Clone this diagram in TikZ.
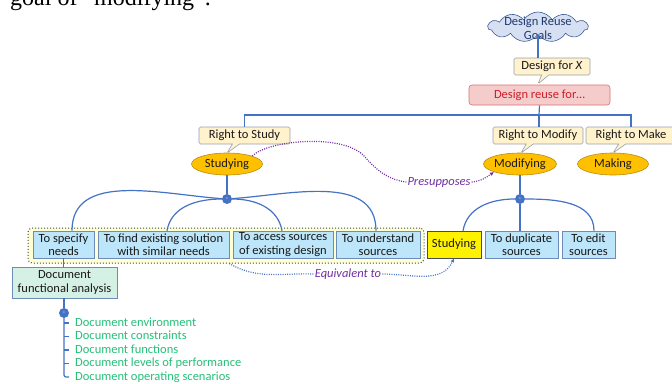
\documentclass[tikz,border=0pt]{standalone}
\usepackage{fontspec}
\setmainfont{Carlito}
\newfontfamily\serifface{Liberation Serif}
\usetikzlibrary{shapes.symbols,shapes.callouts,shapes.geometric,arrows.meta}
\definecolor{lnblue}{RGB}{68,114,196}
\definecolor{cloudfill}{RGB}{214,224,242}
\definecolor{cloudline}{RGB}{60,90,150}
\definecolor{cloudtext}{RGB}{31,56,110}
\definecolor{callfill}{RGB}{255,242,204}
\definecolor{callline}{RGB}{150,160,175}
\definecolor{redfill}{RGB}{245,204,204}
\definecolor{redline}{RGB}{222,110,110}
\definecolor{redtext}{RGB}{205,30,40}
\definecolor{orfill}{RGB}{255,192,0}
\definecolor{orline}{RGB}{185,140,20}
\definecolor{boxfill}{RGB}{189,230,250}
\definecolor{boxline}{RGB}{110,140,185}
\definecolor{grpfill}{RGB}{255,255,210}
\definecolor{grpline}{RGB}{60,70,110}
\definecolor{docfill}{RGB}{213,240,228}
\definecolor{itemgreen}{RGB}{38,191,120}
\definecolor{purp}{RGB}{112,48,160}
\definecolor{txt}{RGB}{25,25,25}
\begin{document}
\begin{tikzpicture}[x=1pt,y=-1pt,
  font=\fontsize{12.5}{13.5}\selectfont, text=txt,
  conn/.style={draw=lnblue,line width=1.2pt},
  callbox/.style={rectangle callout,fill=callfill,draw=callline,line width=0.6pt,
    rounded corners=1.5pt,inner sep=1pt,text height=9pt,text depth=3pt,minimum height=17pt},
  ell/.style={ellipse,fill=orfill,draw=orline,line width=0.6pt,minimum width=71pt,
    minimum height=22pt,inner sep=0pt},
  tbox/.style={rectangle,fill=boxfill,draw=boxline,line width=0.6pt,align=center,
    minimum height=27pt,inner sep=0.5pt},
  jdot/.style={circle,fill=lnblue,minimum size=10pt,inner sep=0pt,
    font=\fontsize{7}{7}\selectfont,text=white},
  item/.style={anchor=west,inner sep=0pt,text=itemgreen,text height=9pt,text depth=3pt},
  relnote/.style={font=\fontsize{12.5}{13.5}\selectfont\itshape,text=purp,inner sep=1pt},
  tip/.style={-{Latex[length=4pt,width=4pt]}},
  reldot/.style={line width=1.2pt,dash pattern=on 1pt off 1.3pt}
]
\useasboundingbox (0,0) rectangle (672,383);
\clip (0,0) rectangle (672,383);

% cropped caption text at the top
\node[anchor=base west,inner sep=0pt,font=\serifface\fontsize{24}{26}\selectfont,text=black]
  (cap) at (10,5) {goal of “modifying”.};

% cloud
\node[cloud,cloud puffs=11,cloud puff arc=115,aspect=3.2,fill=cloudfill,draw=cloudline,
  line width=0.6pt,minimum width=100pt,minimum height=30pt,inner sep=0pt] (cloud) at (538,27) {};
\node[align=center,text=cloudtext,inner sep=0pt] (cloudtxt) at (538,28) {Design Reuse\\Goals};

% design for X
\node[callbox,minimum width=76pt,callout absolute pointer={(538,84)}] (dfx) at (552,66.5)
  {Design for \textit{X}};
\node[rectangle,fill=redfill,draw=redline,line width=0.6pt,rounded corners=3pt,
  minimum width=141pt,minimum height=20pt,inner sep=1pt,text=redtext] (dr) at (539.5,95)
  {Design reuse for\dots};

% rights
\node[callbox,minimum width=91pt,callout absolute pointer={(227,153)}] (rs) at (244.5,135.5) {Right to Study};
\node[callbox,minimum width=90pt,callout absolute pointer={(521,153)}] (rm) at (538,135.5) {Right to Modify};
\node[callbox,minimum width=90pt,callout absolute pointer={(613,153)}] (rk) at (631,135.5) {Right to Make};

\coordinate (bus) at (539,115);
\draw[conn] (cloud.south) -- (dfx.north -| cloud.south);
\draw[conn] (dr.south) -- (bus);
\draw[conn] (rs.north) |- (bus) -| (rk.north);
\draw[conn] (bus) -- (rm.north -| bus);

% activities
\node[ell] (st) at (227,164) {Studying};
\node[ell] (mo) at (520,164) {Modifying};
\node[ell] (mk) at (613,164) {Making};

% junction dots
\node[jdot] (d1) at (227,199) {-};
\node[jdot] (d2) at (520,199) {-};
\draw[conn] (st.south) -- (d1.north);
\draw[conn] (mo.south) -- (d2.north);

% group background
\node[rectangle,fill=grpfill,draw=grpline,line width=1pt,dotted,rounded corners=4pt,
  minimum width=396pt,minimum height=35pt,inner sep=0pt] (grp) at (226,245.5) {};

% boxes
\node[tbox,minimum width=61pt] (b1) at (63.5,244.5) {To specify\\needs};
\node[tbox,minimum width=131pt] (b2) at (163.5,244.5) {To find existing solution\\with similar needs};
\node[tbox,minimum width=100pt] (b3) at (283,244.5) {To access sources\\of existing design};
\node[tbox,minimum width=84pt] (b4) at (378,244.5) {To understand\\sources};
\node[tbox,minimum width=54pt,fill=yellow,draw=black!70] (b5) at (454,244.5) {Studying};
\node[tbox,minimum width=73pt] (b6) at (521.5,244.5) {To duplicate\\sources};
\node[tbox,minimum width=53pt] (b7) at (588.5,244.5) {To edit\\sources};

\draw[conn] (d1) to[out=176,in=90] ([xshift=8.5pt]b1.north);
\draw[conn] (d1) to[out=180,in=80] ([xshift=3.5pt]b2.north);
\draw[conn] (d1) to[out=0,in=100] ([xshift=-1pt]b3.north);
\draw[conn] (d1) to[out=4,in=90] ([xshift=-2pt]b4.north);
\draw[conn] (d2) to[out=180,in=80] ([xshift=9pt]b5.north);
\draw[conn] (d2) -- (d2 |- b6.north);
\draw[conn] (d2) to[out=0,in=90] ([xshift=5.5pt]b7.north);

% document functional analysis
\node[rectangle,fill=docfill,draw=boxline,line width=0.6pt,align=center,
  minimum width=105pt,minimum height=31pt,inner sep=0.5pt] (doc) at (64.5,282.5)
  {Document\\functional analysis};
\draw[conn] (b1.south) -- (b1.south |- doc.north);
\node[jdot] (d3) at (64,313) {-};
\draw[conn] (doc.south -| d3) -- (d3.north);

\node[item] (i1) at (75,323) {Document environment};
\node[item] (i2) at (75,336.5) {Document constraints};
\node[item] (i3) at (75,350) {Document functions};
\node[item] (i4) at (75,363.5) {Document levels of performance};
\node[item] (i5) at (75,377) {Document operating scenarios};
\draw[conn,rounded corners=2pt] (d3.south) |- ([xshift=-6pt]i5.west);
\foreach \i in {i1,i2,i3,i4}{
  \draw[conn] (d3.south |- \i.west) -- ([xshift=-6pt]\i.west);
}

% presupposes
\node[relnote] (pres) at (439,182) {Presupposes};
\draw[purp,reldot]
  (st.north east) .. controls (268,140) and (345,133) .. (365,157)
  .. controls (378,172) and (390,180) .. (pres.west);
\draw[purp,reldot,tip]
  (pres.east) to[out=5,in=215] (mo.south west);

% equivalent to
\node[relnote] (equiv) at (348,274) {Equivalent to};
\draw[lnblue,reldot]
  (grp.south -| b2.east) to[out=-30,in=178] (equiv.west);
\draw[lnblue,reldot,tip]
  (equiv.east) to[out=0,in=-115] (b5.south);
\end{tikzpicture}
\end{document}
